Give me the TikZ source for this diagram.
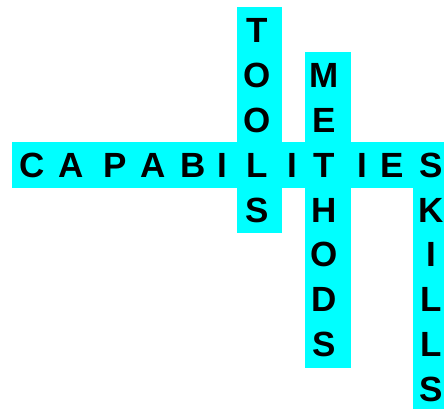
\documentclass[tikz,border=0pt]{standalone}
\usepackage{fontspec}
\setmainfont{Liberation Sans}
\usepackage{tikz}
\definecolor{barC}{RGB}{0,255,255}

\begin{document}
\begin{tikzpicture}[x=1pt, y=-1pt,
  bar/.style={fill=barC, draw=none},
  letter/.style={anchor=base, inner sep=0pt, text=black,
                 font=\fontsize{35}{35}\selectfont\bfseries}]
  \useasboundingbox (0,0) rectangle (444,409);
  % cyan strips
  \fill[bar] (236.7,7.3) rectangle (282.3,233);
  \fill[bar] (304.7,52) rectangle (350.7,368);
  \fill[bar] (412.7,143) rectangle (444,409);
  \fill[bar] (12,142) rectangle (444,188);

  % across
  \foreach \ch/\x [count=\i] in {C/31.7, A/70.8, P/115, A/153, B/193, I/222.5,
      L/257, I/292.5, T/324, I/362, E/392, S/431.5}
    \node[letter] (cap\i) at (\x,177.25) {\ch};

  % down (rows are 44.75 apart, shared letters left out)
  \foreach \ch/\r [count=\i] in {T/0, O/1, O/2, S/4}
    \node[letter] (tools\i) at (257,43+44.75*\r) {\ch};
  \foreach \ch/\r [count=\i] in {M/1, E/2, H/4, O/5, D/6, S/7}
    \node[letter] (meth\i) at (324,43+44.75*\r) {\ch};
  \foreach \ch/\r [count=\i] in {K/4, I/5, L/6, L/7, S/8}
    \node[letter] (skill\i) at (431.5,43+44.75*\r) {\ch};
\end{tikzpicture}
\end{document}
